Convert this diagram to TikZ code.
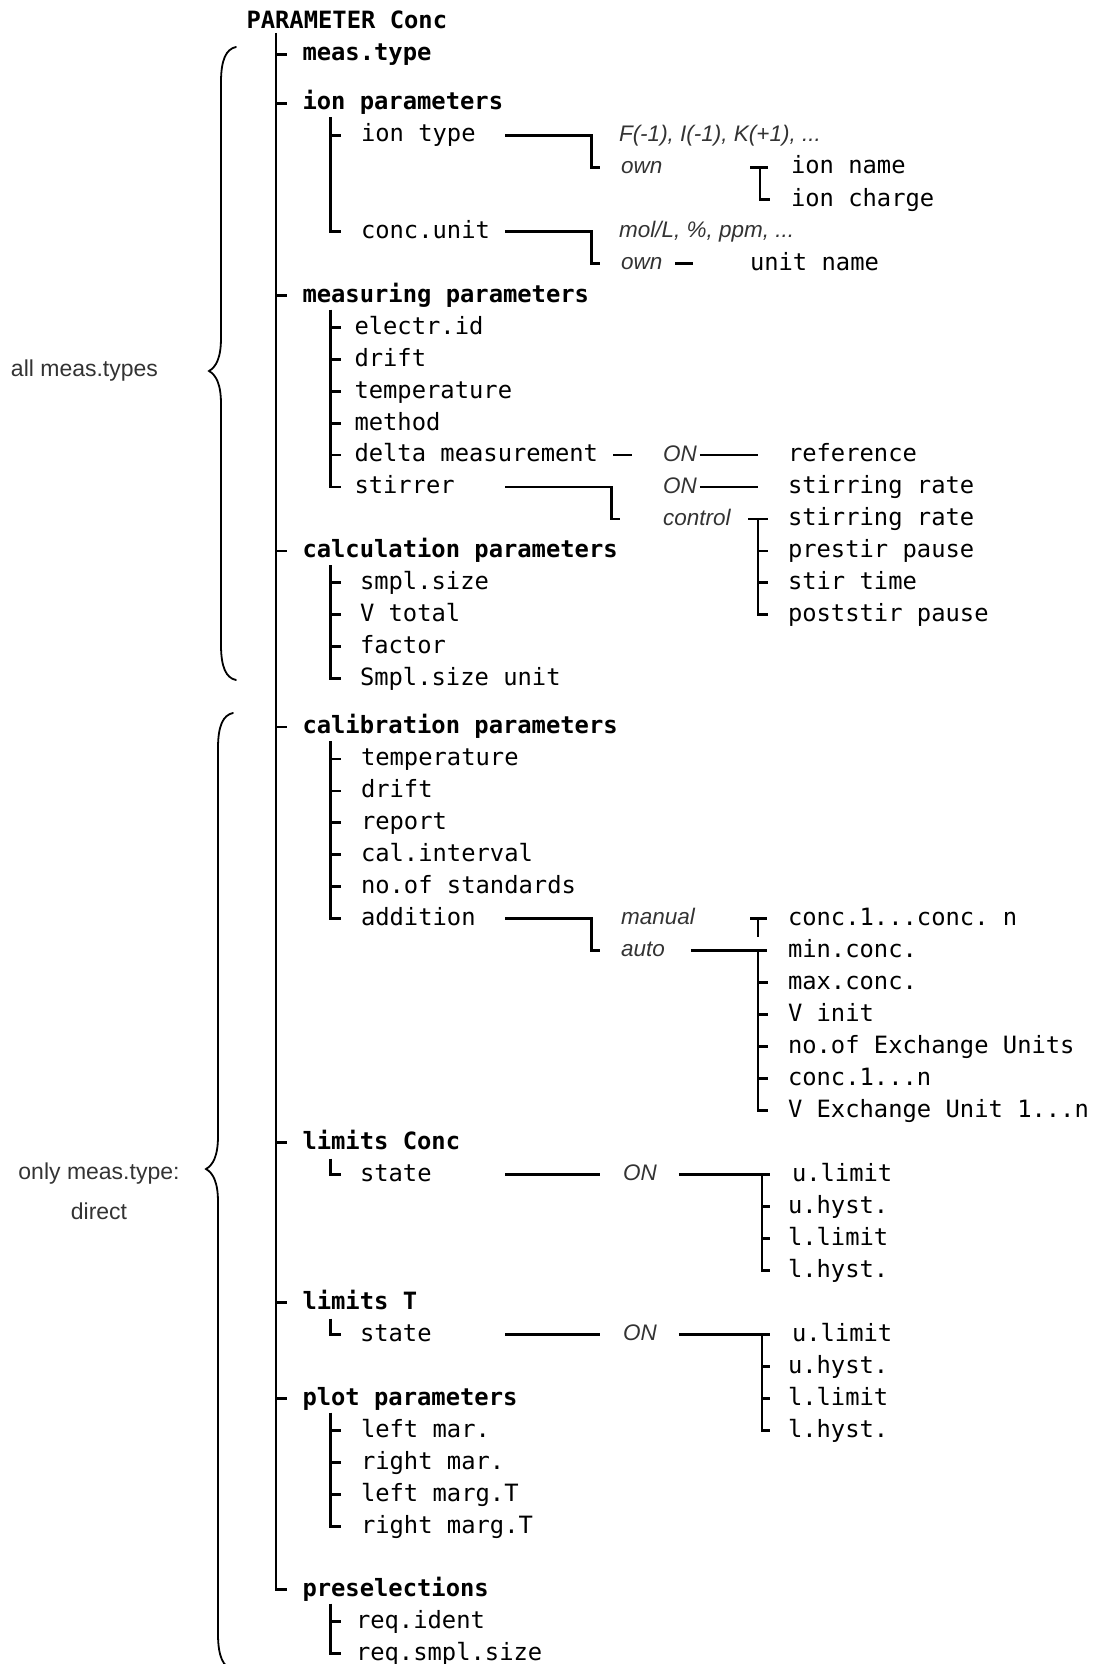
\documentclass[tikz,border=0pt]{standalone}
\usepackage{fontspec}
\usetikzlibrary{calc}
\setmonofont{DejaVu Sans Mono}
\newfontfamily\labelfont{Liberation Sans}
\begin{document}
\begin{tikzpicture}[x=1pt,y=-1pt,
  every node/.style={inner sep=0pt, outer sep=0pt},
  item/.style={anchor=west, text height=13pt, text depth=0pt,
    font=\ttfamily\fontsize{23.8}{28}\selectfont},
  head/.style={item, font=\ttfamily\bfseries\fontsize{23.8}{28}\selectfont},
  opt/.style={anchor=west, text height=12pt, text depth=0pt, text=black!80,
    font=\labelfont\itshape\fontsize{22.5}{27}\selectfont},
  note/.style={align=center, text=black!80, font=\labelfont\fontsize{23}{40}\selectfont},
  conn/.style={line width=2.5pt},
  brace/.style={line width=1.8pt, line cap=round}
]
\useasboundingbox (0,0) rectangle (1094,1664);
\clip (0,0) rectangle (1094,1664);

% columns of the tree
\coordinate (T) at (276,0);     % main trunk
\coordinate (S) at (330.5,0);   % second level
\coordinate (C) at (505,0);     % start of option connectors
\coordinate (trunktop) at (276,33);

\node[head] (root) at (246.5,22.5) {PARAMETER Conc};

\begin{scope}[yshift=-4.5pt]
% ---------- first level ----------
\node[head] (mt)   at (302.5,50)   {meas.type};
\node[head] (ionp) at (302.5,99)   {ion parameters};
\node[head] (meas) at (302.5,291)  {measuring parameters};
\node[head] (calc) at (302.5,546.5){calculation parameters};
\node[head] (cal)  at (302.5,722.5){calibration parameters};
\node[head] (limc) at (302.5,1138) {limits Conc};
\node[head] (limt) at (302.5,1298) {limits T};
\node[head] (plot) at (302.5,1394) {plot parameters};
\node[head] (pre)  at (302.5,1585) {preselections};

\draw[conn] (trunktop) -- (T |- pre.west) -- ++(11,0);
\foreach \n in {mt,ionp,meas,calc,cal,limc,limt,plot}
  \draw[conn] (T |- \n.west) -- ++(11,0);

% ---------- ion parameters ----------
\node[item] (iont)  at (361,131) {ion type};
\node[item] (concu) at (361,227) {conc.unit};
\draw[conn] ($(S |- ionp.west)+(0,14)$) -- (S |- concu.west) -- ++(10.5,0);
\draw[conn] (S |- iont.west) -- ++(10.5,0);

\node[opt] (opta) at (619,131) {F(-1), I(-1), K(+1), ...};
\node[opt] (owna) at (621,163) {own};
\draw[conn] (C |- iont.west) -| (591.5,163) -- (owna.west -| 600,0);
\node[item] (ionname)   at (791,163) {ion name};
\node[item] (ioncharge) at (791,195) {ion charge};
\draw[conn] (750,163) -- (768,163);
\draw[conn] (760,163) -- (760 ,195) -- (ioncharge.west -| 770,0);

\node[opt] (optb) at (619,227) {mol/L, \%, ppm, ...};
\node[opt] (ownb) at (621,259) {own};
\draw[conn] (C |- concu.west) -| (591.5,259) -- (ownb.west -| 600,0);
\node[item] (unitname) at (750,259) {unit name};
\draw[conn] ([xshift=13pt]ownb.east) -- ([xshift=31pt]ownb.east);

% ---------- measuring parameters ----------
\node[item] (eid)   at (354.5,323)   {electr.id};
\node[item] (drift) at (354.5,355)   {drift};
\node[item] (temp)  at (354.5,387)   {temperature};
\node[item] (meth)  at (354.5,419)   {method};
\node[item] (delta) at (354.5,450.5) {delta measurement};
\node[item] (stir)  at (354.5,482.5) {stirrer};
\draw[conn] ($(S |- meas.west)+(0,14)$) -- (S |- stir.west) -- ++(10.5,0);
\foreach \n in {eid,drift,temp,meth,delta}
  \draw[conn] (S |- \n.west) -- ++(10.5,0);

\node[opt] (dON) at (663,450.5) {ON};
\node[item] (refn) at (788,450.5) {reference};
\draw[conn] ([xshift=15pt]delta.east) -- ([xshift=34pt]delta.east);
\draw[conn] ([xshift=3pt]dON.east) -- ([xshift=-30pt]refn.west);

\node[opt] (sON)  at (663,482.5) {ON};
\node[opt] (ctrl) at (663,514.5) {control};
\draw[conn] (C |- stir.west) -| (611.5,514.5) -- (ctrl.west -| 620,0);
\node[item] (srate) at (788,482.5) {stirring rate};
\draw[conn] ([xshift=3pt]sON.east) -- ([xshift=-30pt]srate.west);

\node[item] (srate2) at (788,514.5) {stirring rate};
\node[item] (prest)  at (788,546.5) {prestir pause};
\node[item] (stirt)  at (788,578)   {stir time};
\node[item] (postst) at (788,610)   {poststir pause};
\draw[conn] (748,514.5) -- (768,514.5);
\draw[conn] (758,514.5) -- (758,610) -- (postst.west -| 768,0);
\foreach \n in {prest,stirt}
  \draw[conn] (\n.west -| 758,0) -- (\n.west -| 768,0);

% ---------- calculation parameters ----------
\node[item] (smpl)  at (360,578) {smpl.size};
\node[item] (vtot)  at (360,610) {V total};
\node[item] (fact)  at (360,642) {factor};
\node[item] (sunit) at (360,674) {Smpl.size unit};
\draw[conn] ($(S |- calc.west)+(0,14)$) -- (S |- sunit.west) -- ++(10.5,0);
\foreach \n in {smpl,vtot,fact}
  \draw[conn] (S |- \n.west) -- ++(10.5,0);

% ---------- calibration parameters ----------
\node[item] (ctemp)  at (361,754.5) {temperature};
\node[item] (cdrift) at (361,786.5) {drift};
\node[item] (rep)    at (361,818)   {report};
\node[item] (cint)   at (361,850)   {cal.interval};
\node[item] (nstd)   at (361,882)   {no.of standards};
\node[item] (addn)   at (361,914)   {addition};
\draw[conn] ($(S |- cal.west)+(0,14)$) -- (S |- addn.west) -- ++(10.5,0);
\foreach \n in {ctemp,cdrift,rep,cint,nstd}
  \draw[conn] (S |- \n.west) -- ++(10.5,0);

\node[opt] (man)  at (621,914) {manual};
\node[opt] (auto) at (621,946) {auto};
\draw[conn] (C |- addn.west) -| (591.5,946) -- (auto.west -| 600,0);

\node[item] (cc)   at (788,914)  {conc.1...conc. n};
\draw[conn] (750,914) -- (767,914);
\draw[conn] (758,914) -- (758,932);

\node[item] (minc)  at (788,946)  {min.conc.};
\node[item] (maxc)  at (788,978)  {max.conc.};
\node[item] (vinit) at (788,1010) {V init};
\node[item] (nexu)  at (788,1042) {no.of Exchange Units};
\node[item] (c1n)   at (788,1074) {conc.1...n};
\node[item] (vexu)  at (788,1106) {V Exchange Unit 1...n};
\draw[conn] ([xshift=26pt]auto.east) -- (minc.west -| 767,0);
\draw[conn] (758,946) -- (758,1106) -- (vexu.west -| 768,0);
\foreach \n in {maxc,vinit,nexu,c1n}
  \draw[conn] (\n.west -| 758,0) -- (\n.west -| 768,0);

% ---------- limits Conc ----------
\node[item] (stc) at (360,1170) {state};
\draw[conn] ($(S |- stc.west)+(0,-16)$) -- (S |- stc.west) -- ++(10.5,0);
\node[opt] (onc) at (623,1170) {ON};
\draw[conn] (C |- stc.west) -- ([xshift=-23pt]onc.west);
\node[item] (ulc) at (792,1170) {u.limit};
\node[item] (uhc) at (788,1202) {u.hyst.};
\node[item] (llc) at (788,1234) {l.limit};
\node[item] (lhc) at (788,1266) {l.hyst.};
\draw[conn] ([xshift=22pt]onc.east) -- (ulc.west -| 770,0);
\draw[conn] (762,1170) -- (762,1266) -- (lhc.west -| 770,0);
\foreach \n in {uhc,llc}
  \draw[conn] (\n.west -| 762,0) -- (\n.west -| 770,0);

% ---------- limits T ----------
\node[item] (stt) at (360,1330) {state};
\draw[conn] ($(S |- stt.west)+(0,-16)$) -- (S |- stt.west) -- ++(10.5,0);
\node[opt] (ont) at (623,1330) {ON};
\draw[conn] (C |- stt.west) -- ([xshift=-23pt]ont.west);
\node[item] (ult) at (792,1330) {u.limit};
\node[item] (uht) at (788,1362) {u.hyst.};
\node[item] (llt) at (788,1394) {l.limit};
\node[item] (lht) at (788,1426) {l.hyst.};
\draw[conn] ([xshift=22pt]ont.east) -- (ult.west -| 770,0);
\draw[conn] (762,1330) -- (762,1426) -- (lht.west -| 770,0);
\foreach \n in {uht,llt}
  \draw[conn] (\n.west -| 762,0) -- (\n.west -| 770,0);

% ---------- plot parameters ----------
\node[item] (lm)  at (361,1426) {left mar.};
\node[item] (rm)  at (361,1458) {right mar.};
\node[item] (lmt) at (361,1490) {left marg.T};
\node[item] (rmt) at (361,1522) {right marg.T};
\draw[conn] ($(S |- plot.west)+(0,14)$) -- (S |- rmt.west) -- ++(10.5,0);
\foreach \n in {lm,rm,lmt}
  \draw[conn] (S |- \n.west) -- ++(10.5,0);

% ---------- preselections ----------
\node[item] (rid) at (356,1617) {req.ident};
\node[item] (rss) at (356,1649) {req.smpl.size};
\draw[conn] ($(S |- pre.west)+(0,14)$) -- (S |- rss.west) -- ++(10.5,0);
\draw[conn] (S |- rid.west) -- ++(10.5,0);
\end{scope}

% ---------- braces and their notes ----------
\draw[brace] (236,47) .. controls (226,49) and (221,60) .. (221,82)
  -- (221,338) .. controls (221,358) and (216,367) .. (209,371)
  .. controls (216,375) and (221,384) .. (221,404)
  -- (221,645) .. controls (221,667) and (226,678) .. (236,680);
\node[note] (lab1) at (84.5,371) {all meas.types};

\draw[brace] (233,713) .. controls (223,715) and (218,726) .. (218,748)
  -- (218,1136) .. controls (218,1156) and (213,1165) .. (206,1169)
  .. controls (213,1173) and (218,1182) .. (218,1202)
  -- (218,1634) .. controls (218,1656) and (223,1667) .. (233,1670);
\node[note] (lab2) at (99,1191) {only meas.type:\\direct};
\end{tikzpicture}
\end{document}
